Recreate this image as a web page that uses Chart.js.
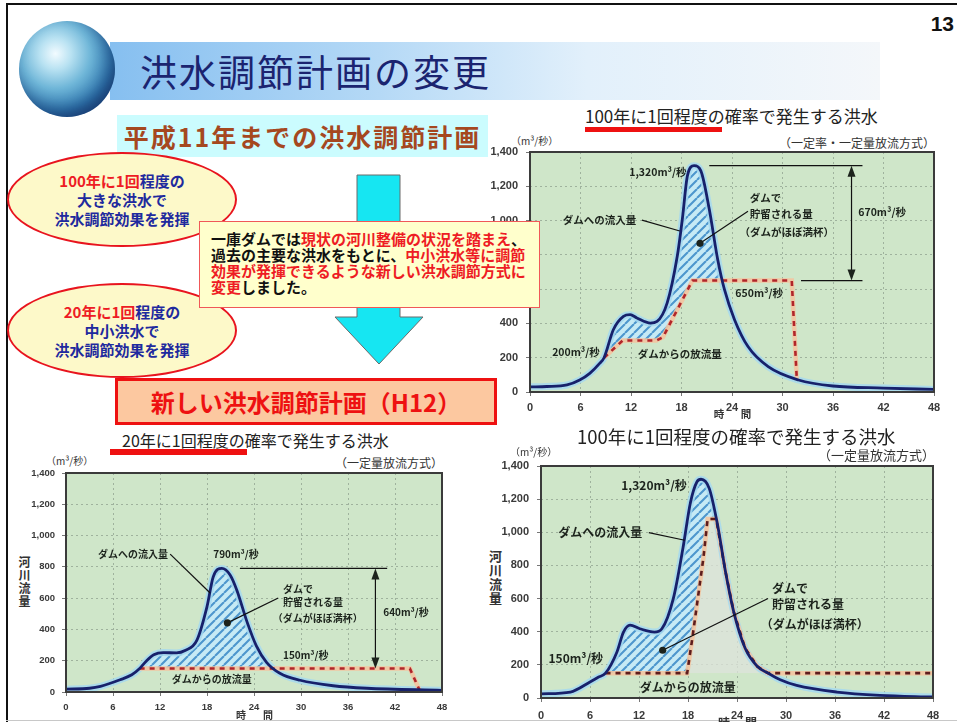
<!DOCTYPE html>
<html lang="ja">
<head>
<meta charset="utf-8">
<title>洪水調節計画の変更</title>
<script src="https://cdn.jsdelivr.net/npm/chart.js"></script>
<style>
  html, body { margin: 0; padding: 0; background: #fff; }
  body { width: 957px; height: 722px; position: relative; overflow: hidden;
         font-family: "Noto Sans CJK JP", "Noto Sans", sans-serif; color: #222; }
  .abs { position: absolute; }
  .r { color: #ee1c24; }
  .frame-top { left: 6px; top: 3px; width: 951px; height: 2px; background: #111; }
  .frame-left { left: 6px; top: 3px; width: 2px; height: 719px; background: #111; }
  .frame-bottom { left: 6px; top: 720px; width: 951px; height: 1px; background: #c8c8c8; }
  .band { left: 110px; top: 42px; width: 770px; height: 58px;
          background: linear-gradient(to right, #86bff0 0%, #b5d9f6 35%, #e2f0fb 62%, #f4f7fa 100%); }
  .globe { left: 19px; top: 21px; width: 96px; height: 96px; border-radius: 50%;
           background: radial-gradient(circle at 38% 34%, #f2fbff 0%, #b9e2f2 18%, #6fb6d8 40%, #2f78b0 66%, #163f78 86%, #cfdcec 100%);
           box-shadow: inset -6px -8px 14px rgba(20,40,90,0.45); }
  .title { left: 140px; top: 46px; font-size: 37px; line-height: 50px; letter-spacing: 2px; color: #1b2470; white-space: nowrap; }
  .page { right: 3px; top: 12px; font: bold 21px "Liberation Sans", Arial, sans-serif; color: #111; }
  .oldplan { left: 117px; top: 115px; width: 371px; height: 42px; background: #cbfcfe;
             text-align: center; line-height: 42px; font-size: 25px; font-weight: bold; letter-spacing: 2px; color: #a5481f; white-space: nowrap; }
  .ell { left: 7px; width: 230px; height: 95px; box-sizing: border-box; border: 2px solid #e8141e; border-radius: 50%;
         background: #fdf9c9; display: flex; align-items: center; justify-content: center; text-align: center;
         font-size: 15px; font-weight: bold; line-height: 19px; color: #1f2a9e; white-space: nowrap; }
  .note { left: 199px; top: 221px; width: 341px; height: 87px; box-sizing: border-box; border: 1px solid #f05858;
          background: #ffffcc; padding: 9px 0 0 11px; font-size: 15px; font-weight: bold; line-height: 16px; color: #111;
          white-space: nowrap; z-index: 5; }
  .newplan { left: 115px; top: 378px; width: 382px; height: 47px; box-sizing: border-box; border: 3px solid #ee1111;
             background: #fcc8a0; text-align: center; line-height: 41px; font-size: 24px; font-weight: bold; color: #ee1111;
             white-space: nowrap; z-index: 5; }
  .ctitle { white-space: nowrap; color: #222; line-height: 20px; }
  .uline { height: 5px; background: #ee1111; }
  .sub { white-space: nowrap; color: #333; line-height: 16px; }
  .unit { white-space: nowrap; color: #333; font-size: 10px; line-height: 14px; }
  .vlabel { writing-mode: vertical-rl; font-weight: bold; color: #333; letter-spacing: 1px; }
  canvas { position: absolute; }
</style>
</head>
<body>
<div class="abs frame-top"></div>
<div class="abs frame-left"></div>
<div class="abs frame-bottom"></div>

<div class="abs band"></div>
<div class="abs globe"></div>
<div class="abs title">洪水調節計画の変更</div>
<div class="abs page">13</div>

<div class="abs oldplan">平成11年までの洪水調節計画</div>

<div class="abs ell" style="top:152px;"><div><span class="r">100年に1回</span>程度の<br>大きな洪水で<br>洪水調節効果を発揮</div></div>
<div class="abs ell" style="top:283px;"><div><span class="r">20年に1回</span>程度の<br>中小洪水で<br>洪水調節効果を発揮</div></div>

<svg class="abs" style="left:330px;top:170px;" width="100" height="200" viewBox="330 170 100 200">
  <polygon points="357,175 400,175 400,317 423,317 379,364 335,317 357,317" fill="#16e6f2" stroke="#6a6a6a" stroke-width="1"/>
</svg>

<div class="abs note">一庫ダムでは<span class="r">現状の河川整備の状況を踏まえ</span>、<br>過去の主要な洪水をもとに、<span class="r">中小洪水等に調節</span><br><span class="r">効果が発揮できるような新しい洪水調節方式に</span><br><span class="r">変更</span>しました。</div>

<div class="abs newplan">新しい洪水調節計画（H12）</div>

<!-- upper right: old plan, 100-year flood -->
<div class="abs ctitle" style="left:585px;top:106px;font-size:17px;">100年に1回程度の確率で発生する洪水</div>
<div class="abs uline" style="left:585px;top:127px;width:137px;"></div>
<div class="abs sub" style="right:22px;top:135px;font-size:12px;">（一定率・一定量放流方式）</div>
<div class="abs unit" style="left:511px;top:134px;">（m³/秒）</div>
<canvas id="chartOld100" width="462" height="290" style="left:490px;top:135px;"></canvas>

<!-- lower left: new plan, 20-year flood -->
<div class="abs ctitle" style="left:122px;top:430px;font-size:16px;">20年に1回程度の確率で発生する洪水</div>
<div class="abs uline" style="left:110px;top:449px;width:137px;height:6px;"></div>
<div class="abs sub" style="right:514px;top:455px;font-size:12px;">（一定量放流方式）</div>
<div class="abs unit" style="left:46px;top:454px;">（m³/秒）</div>
<div class="abs vlabel" style="left:16px;top:556px;font-size:12px;">河川流量</div>
<canvas id="chart20" width="430" height="264" style="left:26px;top:458px;"></canvas>

<!-- lower right: new plan, 100-year flood -->
<div class="abs ctitle" style="left:577px;top:426px;font-size:18.5px;">100年に1回程度の確率で発生する洪水</div>
<div class="abs sub" style="right:22px;top:447px;font-size:13px;">（一定量放流方式）</div>
<div class="abs unit" style="left:510px;top:445px;">（m³/秒）</div>
<div class="abs vlabel" style="left:486px;top:550px;font-size:13px;">河川流量</div>
<canvas id="chartNew100" width="450" height="272" style="left:501px;top:450px;"></canvas>

<script>
// ---- axis ticks ----
const hourTicks = [0, 6, 12, 18, 24, 30, 36, 42, 48];
const flowTicks = [0, 200, 400, 600, 800, 1000, 1200, 1400];

// ---- old plan, 100-year flood (constant-rate / constant-amount release) ----
const hoursOld100  = [0, 2, 4.4, 5.9, 7.1, 8.3, 8.8, 9.9, 11.1, 11.9, 12.7, 14.3, 15.1, 16.3, 17.5, 18.1, 18.7, 19.5, 20.3, 21.3, 22.3, 23.1, 24.3, 25.9, 28.3, 31.9, 36, 42, 48];
const inflowOld100 = [30, 32, 41, 70, 109, 168, 200, 363, 441, 451, 432, 402, 412, 520, 793, 1008, 1261, 1320, 1290, 1066, 773, 598, 422, 265, 148, 70, 35, 23, 15];
const outHoursOld100 = [8.8, 11.0, 15.0, 15.8, 19.3, 31.1, 31.7];
const outflowOld100  = [200, 300, 300, 320, 650, 650, 72];

// ---- new plan, 20-year flood (constant-amount release) ----
const hours20  = [0, 3, 4.4, 6.9, 8.4, 9.4, 10.2, 11.2, 12.4, 14.1, 15.2, 16.7, 18.0, 18.8, 19.9, 20.95, 21.8, 23.1, 24.3, 25.6, 27.3, 29.9, 34.1, 38.4, 48];
const inflow20 = [18, 24, 36, 78, 110, 150, 195, 238, 252, 250, 265, 330, 546, 737, 790, 748, 652, 450, 295, 190, 120, 75, 40, 24, 11];
const outHours20 = [9.4, 43.9, 45.1];
const outflow20  = [150, 150, 15];

// ---- new plan, 100-year flood (constant-amount release) ----
const hoursNew100  = [0, 3.6, 6.0, 7.0, 7.9, 9.3, 10.1, 10.9, 12.1, 13.9, 14.8, 16.2, 17.4, 18.3, 19.1, 19.6, 20.6, 21.6, 22.6, 23.6, 25.0, 26.5, 27.8, 29.3, 31.3, 36.2, 41.5, 48];
const inflowNew100 = [25, 36, 97, 125, 150, 278, 398, 440, 418, 398, 418, 600, 910, 1180, 1305, 1320, 1265, 1050, 760, 520, 300, 190, 150, 110, 76, 36, 16, 6];
const outHoursNew100 = [7.9, 17.9, 18.5, 19.9, 20.4, 21.45, 22.6, 23.6, 25.0, 26.5, 27.8, 48];
const outflowNew100  = [150, 150, 350, 850, 1080, 1080, 760, 520, 300, 190, 150, 150];
const storageEndNew100 = 21.45;   // reservoir is full; release follows the inflow after this

// ---- helpers ----
const series = (xs, ys) => xs.map((x, i) => ({ x, y: ys[i] }));
const flowText = v => v.toLocaleString('en-US') + 'm³/秒';
const peakOf = a => Math.max(...a);

function hatchPattern() {
  const s = 9, c = document.createElement('canvas');
  c.width = c.height = s;
  const g = c.getContext('2d');
  g.fillStyle = '#c6eaf5';
  g.fillRect(0, 0, s, s);
  g.strokeStyle = '#4d96cd';
  g.lineWidth = 2.1;
  g.beginPath();
  for (const o of [-s, 0, s]) { g.moveTo(o, s); g.lineTo(o + s, 0); }
  g.stroke();
  return g.createPattern(c, 'repeat');
}

// plot background, frame, callouts and the split "時 間" caption
function decor(spec) {
  return {
    id: 'decor',
    beforeDraw(chart) {
      const { ctx, chartArea: a } = chart;
      ctx.save();
      ctx.fillStyle = '#cfe6c9';
      ctx.fillRect(a.left, a.top, a.width, a.height);
      ctx.restore();
    },
    afterDatasetsDraw(chart) {
      const { ctx, chartArea: a, scales: { x, y } } = chart;
      const px = t => x.getPixelForValue(t), py = v => y.getPixelForValue(v);
      ctx.save();
      ctx.strokeStyle = '#3b3b3b';
      ctx.lineWidth = 2;
      ctx.strokeRect(a.left, a.top, a.width, a.height);

      ctx.fillStyle = '#1c231c';
      ctx.strokeStyle = '#111';
      ctx.lineWidth = 1.2;
      ctx.textBaseline = 'middle';
      ctx.font = `bold ${spec.size}px "Noto Sans CJK JP"`;
      for (const n of spec.notes) {
        if (n.text !== undefined) {
          ctx.textAlign = n.align || 'left';
          ctx.fillText(n.text, px(n.t), py(n.v));
        } else if (n.line) {
          const [t1, v1, t2, v2] = n.line;
          ctx.beginPath(); ctx.moveTo(px(t1), py(v1)); ctx.lineTo(px(t2), py(v2)); ctx.stroke();
          if (n.dot) { ctx.beginPath(); ctx.arc(px(t2), py(v2), 3.6, 0, Math.PI * 2); ctx.fill(); }
        } else if (n.arrow) {
          const [t, vTop, vBot] = n.arrow;
          const xx = px(t), y1 = py(vTop), y2 = py(vBot);
          ctx.beginPath(); ctx.moveTo(xx, y1 + 6); ctx.lineTo(xx, y2 - 6); ctx.stroke();
          ctx.beginPath(); ctx.moveTo(xx, y1); ctx.lineTo(xx - 4, y1 + 11); ctx.lineTo(xx + 4, y1 + 11); ctx.closePath(); ctx.fill();
          ctx.beginPath(); ctx.moveTo(xx, y2); ctx.lineTo(xx - 4, y2 - 11); ctx.lineTo(xx + 4, y2 - 11); ctx.closePath(); ctx.fill();
        }
      }
      // axis caption "時間" written on both sides of the 24 h tick
      ctx.fillStyle = '#333';
      ctx.font = `bold ${spec.size}px "Noto Sans CJK JP"`;
      ctx.textAlign = 'center';
      const x24 = px(24), yc = a.bottom + spec.capY;
      ctx.fillText('時', x24 - 13, yc);
      ctx.fillText('間', x24 + 14, yc);
      ctx.restore();
    }
  };
}

function floodChart(id, d) {
  const hatch = hatchPattern();
  const storage = series(d.outHours, d.outflow).filter(p => p.x <= d.storageEnd);
  const tickFont = { family: '"Liberation Sans", Arial, sans-serif', size: d.tickSize, weight: 'bold' };
  return new Chart(document.getElementById(id), {
    type: 'line',
    data: {
      datasets: [
        { // inflow to the dam, hatched where it exceeds the release
          data: series(d.hours, d.inflow), order: 0,
          borderColor: '#17216b', borderWidth: 2.8, cubicInterpolationMode: 'monotone',
          fill: { target: 4, above: hatch, below: 'rgba(0,0,0,0)' }
        },
        { // release from the dam (dashes)
          data: series(d.outHours, d.outflow), order: 1, tension: 0,
          borderColor: d.dashColor, borderWidth: 2.6, borderDash: [5, 5], fill: false
        },
        { // release underlay
          data: series(d.outHours, d.outflow), order: 2, tension: 0,
          borderColor: 'rgba(243,196,160,0.9)', borderWidth: 4.5,
          fill: d.passFill ? { value: d.outflow[0], above: 'rgba(222,227,219,0.75)', below: 'rgba(0,0,0,0)' } : false
        },
        { // soft halo around the inflow line
          data: series(d.hours, d.inflow), order: 3,
          borderColor: 'rgba(165,216,240,0.85)', borderWidth: 7, cubicInterpolationMode: 'monotone', fill: false
        },
        { // release while water is being stored (lower edge of the hatch)
          data: storage, order: 4, tension: 0,
          borderColor: 'rgba(0,0,0,0)', borderWidth: 0, fill: false
        }
      ]
    },
    options: {
      responsive: false, animation: false, devicePixelRatio: 1,
      layout: { padding: d.pad },
      elements: { point: { radius: 0 } },
      plugins: { legend: { display: false }, tooltip: { enabled: false }, filler: { drawTime: 'beforeDatasetsDraw' } },
      scales: {
        x: {
          type: 'linear', min: hourTicks[0], max: hourTicks[hourTicks.length - 1],
          afterBuildTicks: s => { s.ticks = hourTicks.map(v => ({ value: v })); },
          afterFit: s => { s.height = d.xH; },
          ticks: { color: '#3a3a3a', font: tickFont, padding: d.xPad, maxRotation: 0, autoSkip: false },
          grid: { color: 'rgba(120,135,120,0.55)', lineWidth: 1, tickLength: 4, tickColor: '#777' },
          border: { display: false, dash: [2, 3] }
        },
        y: {
          type: 'linear', min: flowTicks[0], max: flowTicks[flowTicks.length - 1],
          afterBuildTicks: s => { s.ticks = flowTicks.map(v => ({ value: v })); },
          afterFit: s => { s.width = 40; },
          ticks: { color: '#3a3a3a', font: tickFont, padding: d.yPad },
          grid: { color: 'rgba(120,135,120,0.55)', lineWidth: 1, tickLength: 4, tickColor: '#777' },
          border: { display: false, dash: [2, 3] }
        }
      }
    },
    plugins: [decor(d.decor)]
  });
}

// ---- old plan, 100-year flood ----
const peakOld = peakOf(inflowOld100), capOld = peakOf(outflowOld100);
floodChart('chartOld100', {
  hours: hoursOld100, inflow: inflowOld100, outHours: outHoursOld100, outflow: outflowOld100,
  storageEnd: Infinity, dashColor: '#b0252a', passFill: false,
  pad: { top: 17, right: 18, left: 0, bottom: 0 }, xH: 33, xPad: 5, yPad: 8, tickSize: 11,
  decor: { size: 10.5, capY: 22, notes: [
    { text: flowText(peakOld), t: 18.6, v: 1283, align: 'right' },
    { text: 'ダムへの流入量', t: 3.9, v: 1002 },
    { line: [13.3, 1003, 17.8, 939] },
    { text: 'ダムで', t: 26.1, v: 1131 },
    { text: '貯留される量', t: 26.1, v: 1037 },
    { text: '（ダムがほぼ満杯）', t: 24.9, v: 931 },
    { line: [25.9, 1054, 20.2, 867], dot: true },
    { text: flowText(capOld), t: 24.4, v: 580 },
    { text: flowText(outflowOld100[0]), t: 8.3, v: 234, align: 'right' },
    { text: 'ダムからの放流量', t: 12.8, v: 223 },
    { line: [21.3, peakOld, 39.5, peakOld] },
    { line: [32.2, capOld, 39.5, capOld] },
    { arrow: [38.2, peakOld, capOld] },
    { text: flowText(peakOld - capOld), t: 39.0, v: 1049 }
  ] }
});

// ---- new plan, 20-year flood ----
const peak20 = peakOf(inflow20), rate20 = outflow20[0];
floodChart('chart20', {
  hours: hours20, inflow: inflow20, outHours: outHours20, outflow: outflow20,
  storageEnd: Infinity, dashColor: '#b0252a', passFill: false,
  pad: { top: 15, right: 14, left: 0, bottom: 0 }, xH: 30, xPad: 6, yPad: 7, tickSize: 9.5,
  decor: { size: 10, capY: 23, notes: [
    { text: 'ダムへの流入量', t: 4.1, v: 881 },
    { line: [13.3, 881, 18.4, 633] },
    { text: flowText(peak20), t: 18.8, v: 881 },
    { line: [22.2, peak20, 41, peak20] },
    { arrow: [39.5, peak20, rate20] },
    { text: flowText(peak20 - rate20), t: 40.5, v: 513 },
    { text: 'ダムで', t: 27.7, v: 656 },
    { text: '貯留される量', t: 27.7, v: 577 },
    { text: '（ダムがほぼ満杯）', t: 26.4, v: 472 },
    { line: [27.1, 601, 20.6, 442], dot: true },
    { text: flowText(rate20), t: 27.7, v: 238 },
    { text: 'ダムからの放流量', t: 13.5, v: 85 }
  ] }
});

// ---- new plan, 100-year flood ----
const peakNew = peakOf(inflowNew100), rateNew = outflowNew100[0];
floodChart('chartNew100', {
  hours: hoursNew100, inflow: inflowNew100, outHours: outHoursNew100, outflow: outflowNew100,
  storageEnd: storageEndNew100, dashColor: '#5e1d1d', passFill: true,
  pad: { top: 16, right: 18, left: 0, bottom: 0 }, xH: 24, xPad: 7, yPad: 8, tickSize: 11,
  decor: { size: 12, capY: 25, notes: [
    { text: flowText(peakNew), t: 17.85, v: 1284, align: 'right' },
    { text: 'ダムへの流入量', t: 2.1, v: 1002 },
    { line: [13.2, 998, 17.6, 952] },
    { text: 'ダムで', t: 28.3, v: 660 },
    { text: '貯留される量', t: 28.3, v: 566 },
    { text: '（ダムがほぼ満杯）', t: 26.9, v: 443 },
    { line: [27.8, 600, 14.9, 288], dot: true },
    { text: flowText(rateNew), t: 7.6, v: 240, align: 'right' },
    { text: 'ダムからの放流量', t: 12.1, v: 66 }
  ] }
});
</script>
</body>
</html>
